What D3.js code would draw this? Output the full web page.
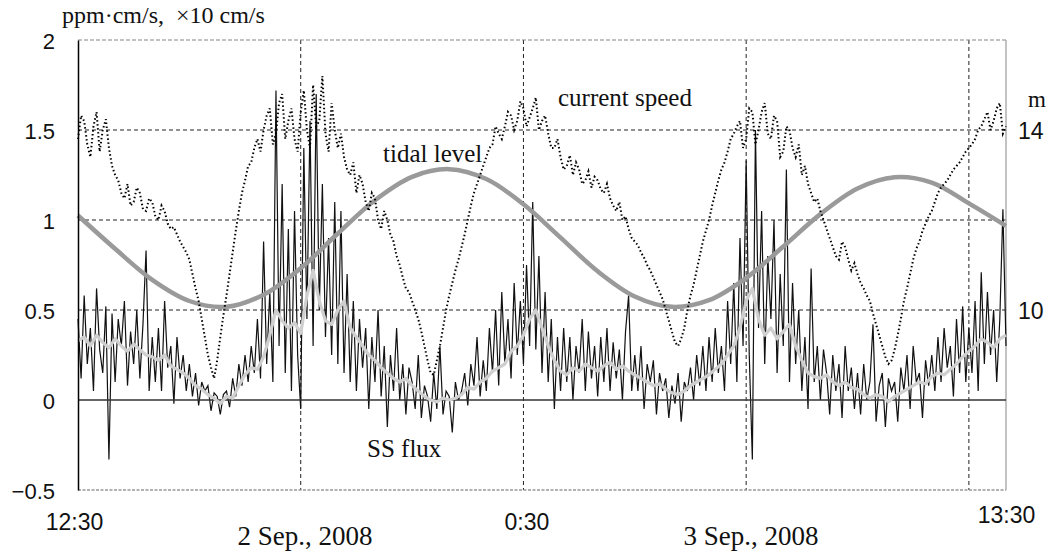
<!DOCTYPE html>
<html><head><meta charset="utf-8">
<script src="https://cdn.jsdelivr.net/npm/d3@7"></script>
<style>
html,body{margin:0;padding:0;background:#fff;}
svg{display:block;}
.sans{font-family:"Liberation Sans",Arial,sans-serif;}
.serif{font-family:"Liberation Serif","Times New Roman",serif;}
.pre{white-space:pre;}
</style></head>
<body>
<svg id="chart" width="1062" height="551"></svg>
<script>
// ---- data ----
const startTime = new Date(2008, 8, 2, 12, 30);
const endTime = new Date(2008, 8, 3, 13, 30);

// SS flux, ppm·cm/s, every 5 minutes from 12:30
const ssFlux = [
 .45,.12,.58,.20,.40,.05,.62,.28,.15,.52,-.33,.48,
 .10,.45,.30,.55,.08,.38,.20,.50,.12,.42,.83,.05,
 .35,.10,.40,.05,.55,.18,.30,-.02,.35,.12,.25,.05,
 .20,.02,.15,-.03,.10,.05,.08,-.06,.04,.02,-.08,.03,
 .05,-.04,.12,.02,.20,.08,.25,.10,.30,.15,.45,.12,
 .88,.20,.60,.10,1.72,.30,1.20,.15,.95,.05,1.05,.25,
 -.05,1.40,.45,1.55,.30,1.70,.50,1.20,.35,.90,.25,1.10,
 .20,1.05,.15,.70,.10,.55,.05,.45,.18,.40,-.05,.35,
 .10,.50,.02,.30,-.15,.25,.05,.40,.00,.20,-.08,.18,
 .10,-.05,.25,-.10,.08,.02,-.12,.15,-.05,.30,-.08,.05,
 .02,-.18,.10,.00,.05,.15,-.03,.20,.08,.35,.02,.22,
 .05,.40,.15,.50,.08,.60,.20,.45,.12,.65,.25,.55,
 .20,.75,.30,1.10,.28,.80,.15,.60,.10,.45,-.05,.35,
 .05,.40,.10,.35,.00,.30,.15,.45,.05,.38,.12,.30,
 .02,.35,.10,.40,.05,.32,.12,.28,.00,.38,.58,.05,
 .25,.05,.30,-.05,.20,.10,.22,-.08,.15,.05,.12,-.10,
 .08,-.02,.15,-.12,.10,.05,.18,.00,.25,.08,.30,.05,
 .35,.10,.40,.15,.30,.05,.55,.20,.65,.10,.90,.30,
 1.33,.25,-.33,1.50,.40,1.05,.20,.80,.45,1.00,.15,.70,
 .30,1.28,.10,.65,.20,.50,.05,.35,-.05,.73,.10,.30,
 .00,.28,.15,-.08,.25,.05,.20,-.10,.30,.05,.18,-.05,
 .15,-.08,.20,.00,.10,.42,-.12,.08,.15,-.15,.12,.05,
 .10,-.12,.18,.05,.25,-.05,.30,.10,.15,-.10,.22,.08,
 .25,.05,.35,.10,.40,.18,.30,.02,.45,.15,.52,.10,
 .40,.15,.55,.05,.71,.20,.60,.25,.50,.10,.45,1.06,.30
];
// smoothed SS flux (light grey), every 10 minutes
const ssFluxMean = [
 .33,.35,.30,.36,.32,.29,.34,.30,.27,.31,.28,.25,.24,.22,.25,.19,.17,.15,.12,.08,
 .06,.03,.01,-.02,.02,.01,.08,.14,.18,.17,.24,.36,.50,.44,.40,.43,.37,.58,.72,.55,
 .44,.42,.50,.55,.40,.35,.30,.25,.22,.18,.15,.12,.10,.12,.08,.05,.02,.00,-.01,.01,
 .00,.01,.03,.07,.06,.10,.12,.16,.18,.20,.27,.30,.36,.45,.50,.40,.30,.22,.16,.14,
 .18,.16,.20,.18,.16,.19,.21,.17,.19,.16,.14,.12,.10,.08,.09,.06,.04,.03,.05,.08,
 .10,.12,.14,.17,.20,.25,.30,.40,.55,.62,.45,.36,.40,.34,.38,.42,.30,.22,.15,.13,
 .12,.14,.10,.08,.10,.07,.06,.03,.01,.03,.02,-.01,.02,.04,.06,.08,.10,.09,.13,.15,
 .14,.17,.20,.24,.27,.30,.34,.32,.29,.34,.36
];
// current speed, ×10 cm/s, every 5 minutes
const currentSpeed = [
 1.45,1.58,1.55,1.42,1.35,1.52,1.60,1.38,1.50,1.56,1.40,1.30,1.25,1.22,1.15,1.12,1.20,1.08,1.10,1.18,
 1.15,1.06,1.05,1.12,1.10,1.02,1.00,1.08,1.05,.98,.95,.96,.92,.88,.85,.82,.78,.70,.62,.55,
 .45,.35,.25,.18,.12,.22,.35,.47,.58,.70,.82,.94,1.05,1.15,1.22,1.30,1.32,1.40,1.45,1.38,
 1.50,1.58,1.62,1.42,1.48,1.65,1.70,1.45,1.55,1.62,1.45,1.38,1.60,1.72,1.50,1.40,1.75,1.52,1.55,1.80,
 1.48,1.38,1.65,1.50,1.40,1.48,1.35,1.28,1.25,1.32,1.15,1.25,1.20,1.10,1.05,1.15,1.12,1.00,.95,1.05,
 1.00,.92,.88,.80,.75,.68,.62,.60,.55,.50,.45,.38,.30,.22,.15,.14,.22,.30,.40,.50,
 .58,.65,.72,.78,.85,.92,1.00,1.08,1.15,1.20,1.25,1.30,1.35,1.40,1.42,1.52,1.48,1.45,1.52,1.60,
 1.58,1.50,1.55,1.66,1.62,1.52,1.57,1.62,1.68,1.50,1.55,1.58,1.48,1.40,1.40,1.45,1.35,1.28,1.30,1.36,
 1.25,1.32,1.28,1.20,1.22,1.27,1.18,1.24,1.22,1.17,1.15,1.20,1.12,1.08,1.05,1.10,1.00,1.02,.95,.90,
 .88,.86,.82,.79,.75,.72,.68,.64,.60,.56,.50,.44,.38,.32,.30,.34,.40,.50,.58,.64,
 .72,.80,.88,.94,1.00,1.08,1.15,1.22,1.28,1.32,1.38,1.45,1.48,1.52,1.55,1.40,1.45,1.62,1.60,1.42,
 1.50,1.60,1.65,1.48,1.45,1.58,1.55,1.35,1.38,1.52,1.50,1.40,1.35,1.42,1.25,1.30,1.20,1.15,1.10,1.12,
 1.05,1.00,.95,.90,.85,.80,.78,.88,.85,.78,.72,.76,.70,.65,.62,.58,.55,.48,.42,.36,
 .30,.24,.20,.22,.28,.36,.45,.55,.62,.70,.78,.84,.88,.94,.98,1.02,1.05,1.10,1.15,1.18,
 1.20,1.22,1.25,1.28,1.30,1.32,1.35,1.38,1.40,1.42,1.45,1.50,1.52,1.56,1.60,1.50,1.55,1.62,1.65,1.48,
 1.52
];
// tidal level, m, hourly
const tidalLevel = [
 12.10,11.36,10.67,10.20,10.07,10.34,10.93,11.70,12.44,12.96,13.13,12.91,12.35,
 11.61,10.86,10.30,10.07,10.22,10.71,11.41,12.13,12.70,12.95,12.83,12.37,11.87
];
const leftTicks = [-0.5, 0, 0.5, 1, 1.5, 2];
const rightTicks = [10, 14];
const xTickTimes = [startTime, new Date(2008, 8, 3, 0, 30), endTime];
const gridTimes = [new Date(2008,8,2,18,30), new Date(2008,8,3,0,30), new Date(2008,8,3,6,30), new Date(2008,8,3,12,30)];
const gridValues = [0.5, 1, 1.5];
const dateLabels = [
 {text: "2 Sep., 2008", time: new Date(2008,8,2,18,37)},
 {text: "3 Sep., 2008", time: new Date(2008,8,3,6,38)}
];

// ---- chart ----
const L = 78, R = 1006, T = 40, B = 490;
const svg = d3.select("#chart");
const x = d3.scaleTime().domain([startTime, endTime]).range([L, R]);
const y = d3.scaleLinear().domain([-0.5, 2]).range([B, T]);
const y2 = d3.scaleLinear().domain([6, 16]).range([B, T]);
const at = (step) => (d, i) => x(new Date(startTime.getTime() + i * step * 60000));

// grid
svg.append("g").selectAll("line").data(gridValues).join("line")
  .attr("x1", L).attr("x2", R).attr("y1", d => y(d)).attr("y2", d => y(d))
  .attr("stroke", "#222").attr("stroke-width", 1).attr("stroke-dasharray", "4,3");
svg.append("g").selectAll("line").data(gridTimes).join("line")
  .attr("x1", d => x(d)).attr("x2", d => x(d)).attr("y1", T).attr("y2", B)
  .attr("stroke", "#222").attr("stroke-width", 1).attr("stroke-dasharray", "4,3");
// frame
svg.append("line").attr("x1", L).attr("x2", R).attr("y1", T).attr("y2", T)
  .attr("stroke", "#888").attr("stroke-width", 1.2).attr("stroke-dasharray", "4,2");
svg.append("line").attr("x1", L).attr("x2", R).attr("y1", B).attr("y2", B)
  .attr("stroke", "#999").attr("stroke-width", 1.6).attr("stroke-dasharray", "3,1.5");
svg.append("line").attr("x1", R).attr("x2", R).attr("y1", T).attr("y2", B)
  .attr("stroke", "#aaa").attr("stroke-width", 1.4);

// SS flux
svg.append("path").datum(ssFlux)
  .attr("d", d3.line().x(at(5)).y(d => y(d)))
  .attr("fill", "none").attr("stroke", "#111").attr("stroke-width", 1.2);
// zero line
svg.append("line").attr("x1", L).attr("x2", R).attr("y1", y(0)).attr("y2", y(0))
  .attr("stroke", "#333").attr("stroke-width", 1.4);
svg.append("path").datum(ssFluxMean)
  .attr("d", d3.line().x(at(10)).y(d => y(d)))
  .attr("fill", "none").attr("stroke", "#cfcfcf").attr("stroke-width", 3.2).attr("stroke-linejoin", "round");
// tidal level
svg.append("path").datum(tidalLevel)
  .attr("d", d3.line().x(at(60)).y(d => y2(d)).curve(d3.curveCatmullRom))
  .attr("fill", "none").attr("stroke", "#9a9a9a").attr("stroke-width", 4.5);
// current speed
svg.append("path").datum(currentSpeed)
  .attr("d", d3.line().x(at(5)).y(d => y(d)))
  .attr("fill", "none").attr("stroke", "#000").attr("stroke-width", 2).attr("stroke-dasharray", "1.5,2.5");

// left axis
const gl = svg.append("g").attr("transform", `translate(${L},0)`)
  .call(d3.axisLeft(y).tickValues(leftTicks).tickSize(0).tickPadding(23).tickFormat(d3.format("")));
gl.select(".domain").attr("stroke", "#000").attr("stroke-width", 1.5);
gl.selectAll("text").attr("class", "sans").attr("font-size", 22).attr("fill", "#111").attr("dy", "0.4em");
// right axis
const gr = svg.append("g").attr("transform", `translate(${R},0)`)
  .call(d3.axisRight(y2).tickValues(rightTicks).tickSize(0).tickPadding(12));
gr.select(".domain").remove();
gr.selectAll("text").attr("class", "sans").attr("font-size", 23).attr("fill", "#111").attr("dy", "0.38em");
// bottom axis
const gb = svg.append("g").attr("transform", `translate(0,${B})`)
  .call(d3.axisBottom(x).tickValues(xTickTimes).tickSize(0).tickPadding(24).tickFormat(d3.timeFormat("%-H:%M")));
gb.select(".domain").remove();
gb.selectAll("text").attr("class", "sans").attr("font-size", 23).attr("fill", "#111")
  .attr("transform", (d, i) => i === 2 ? "translate(0,-7)" : i === 0 ? "translate(-4,0)" : "translate(3,0)");

// date labels
svg.append("g").selectAll("text").data(dateLabels).join("text")
  .attr("class", "serif").attr("x", d => x(d.time)).attr("y", 545)
  .attr("text-anchor", "middle").attr("font-size", 27).attr("fill", "#111").text(d => d.text);

// axis titles
svg.append("text").attr("class", "serif pre").attr("x", 62).attr("y", 23)
  .attr("font-size", 24).attr("fill", "#111").text("ppm·cm/s,  ×10 cm/s");
svg.append("text").attr("class", "serif").attr("x", 1028).attr("y", 107)
  .attr("font-size", 23).attr("fill", "#111").text("m");

// series labels
svg.append("text").attr("class", "serif").attr("x", 383).attr("y", 162)
  .attr("font-size", 25).attr("fill", "#111").text("tidal level");
svg.append("text").attr("class", "serif").attr("x", 558).attr("y", 106)
  .attr("font-size", 25).attr("fill", "#111").text("current speed");
svg.append("text").attr("class", "serif").attr("x", 367).attr("y", 457)
  .attr("font-size", 25).attr("fill", "#111").text("SS flux");
</script>
</body></html>
